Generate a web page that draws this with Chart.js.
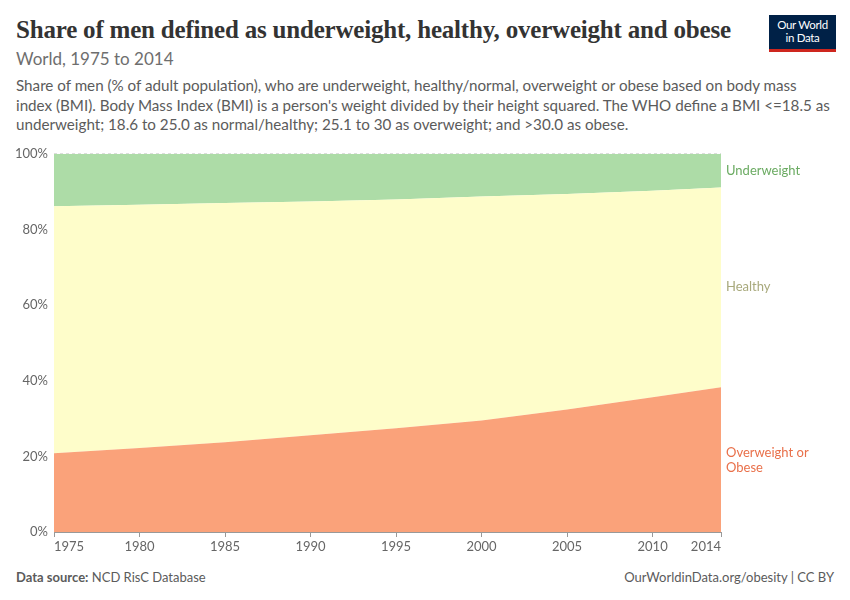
<!DOCTYPE html>
<html>
<head>
<meta charset="utf-8">
<script src="https://cdn.jsdelivr.net/npm/chart.js@4"></script>
<style>
  body { margin: 0; width: 850px; height: 600px; background: #fff; font-family: Lato, sans-serif; position: relative; overflow: hidden; }
  #title { position: absolute; left: 16px; top: 16px; font-family: "Liberation Serif", serif; font-weight: bold; font-size: 25px; color: #333; white-space: nowrap; letter-spacing: -0.2px; }
  #subtitle { position: absolute; left: 16px; top: 48px; font-size: 17px; color: #6e6e6e; }
  #desc { position: absolute; left: 16px; top: 76px; width: 815px; font-size: 15.2px; line-height: 19.5px; color: #5b5b5b; }
  #logo { position: absolute; left: 769px; top: 15px; width: 67px; background: #002147; border-bottom: 3px solid #ce261e; color: #fff; font-size: 11.5px; line-height: 13px; text-align: center; padding-top: 3px; height: 31px; letter-spacing: -0.3px; }
  #wrap { position: absolute; left: 0; top: 140px; width: 850px; height: 420px; }
  #source { position: absolute; left: 16px; top: 569px; font-size: 13px; color: #5b5b5b; }
  #url { position: absolute; right: 16px; top: 569px; font-size: 13px; color: #5b5b5b; }
</style>
</head>
<body>
<div id="title">Share of men defined as underweight, healthy, overweight and obese</div>
<div id="subtitle">World, 1975 to 2014</div>
<div id="desc">Share of men (% of adult population), who are underweight, healthy/normal, overweight or obese based on body mass index (BMI). Body Mass Index (BMI) is a person's weight divided by their height squared. The WHO define a BMI &lt;=18.5 as underweight; 18.6 to 25.0 as normal/healthy; 25.1 to 30 as overweight; and &gt;30.0 as obese.</div>
<div id="logo">Our World<br>in Data</div>
<div id="wrap"><canvas id="chart" width="850" height="420"></canvas></div>
<div id="source"><b>Data source:</b> NCD RisC Database</div>
<div id="url">OurWorldinData.org/obesity | CC BY</div>
<script>
const years = [1975, 1980, 1985, 1990, 1995, 2000, 2005, 2010, 2014];
const overweight = [20.8, 22.2, 23.7, 25.6, 27.4, 29.5, 32.4, 35.6, 38.3];
const underweight = [13.9, 13.5, 13.0, 12.6, 12.1, 11.3, 10.6, 9.8, 8.9];
const healthy = years.map((y, i) => +(100 - overweight[i] - underweight[i]).toFixed(1));
const xTicks = [1975, 1980, 1985, 1990, 1995, 2000, 2005, 2010, 2014];

const names = ["Overweight or Obese", "Healthy", "Underweight"];
const fills = ["#faa27a", "#fefdca", "#addca7"];
const labelColors = ["#e9704a", "#a8a97c", "#6bab62"];

const toPts = arr => years.map((y, i) => ({ x: y, y: arr[i] }));

const sideLabels = {
    id: "sideLabels",
    afterDraw(chart) {
        const ctx = chart.ctx;
        const x = chart.scales.x;
        const yS = chart.scales.y;
        const last = years.length - 1;
        let base = 0;
        ctx.save();
        ctx.font = "13px Lato";
        ctx.textBaseline = "middle";
        ctx.textAlign = "left";
        [overweight, healthy, underweight].forEach((arr, k) => {
            const mid = yS.getPixelForValue(base + arr[last] / 2);
            base += arr[last];
            ctx.fillStyle = labelColors[k];
            if (k === 0) {
                ctx.fillText("Overweight or", x.right + 5, mid - 7);
                ctx.fillText("Obese", x.right + 5, mid + 8);
            } else {
                ctx.fillText(names[k], x.right + 5, mid);
            }
        });
        // x labels
        ctx.fillStyle = "#666";
        ctx.textBaseline = "top";
        xTicks.forEach((t, i) => {
            const px = x.getPixelForValue(t);
            ctx.textAlign = i === 0 ? "left" : (i === xTicks.length - 1 ? "right" : "center");
            ctx.fillText(String(t), px, x.top + 8);
        });
        ctx.restore();
    }
};

new Chart(document.getElementById("chart"), {
    type: "line",
    data: {
        datasets: [overweight, healthy, underweight].map((arr, k) => ({
            label: names[k],
            data: toPts(arr),
            backgroundColor: fills[k],
            borderWidth: 0,
            pointRadius: 0,
            fill: k === 0 ? "origin" : "-1"
        }))
    },
    options: {
        responsive: false,
        animation: false,
        layout: { padding: { top: 13, right: 129, left: 0, bottom: 0 } },
        plugins: { legend: { display: false }, tooltip: { enabled: false } },
        scales: {
            x: {
                type: "linear",
                min: 1975,
                max: 2014,
                afterBuildTicks: s => { s.ticks = xTicks.map(v => ({ value: v })); },
                afterFit: s => { s.height = 28; },
                ticks: { display: false },
                grid: { drawOnChartArea: false, drawTicks: true, tickLength: 5, color: "#999" },
                border: { color: "#999" }
            },
            y: {
                stacked: true,
                min: 0,
                max: 100,
                afterFit: s => { s.width = 54; },
                ticks: {
                    stepSize: 20,
                    padding: 6,
                    color: "#666",
                    font: { family: "Lato", size: 13 },
                    callback: v => v + "%"
                },
                grid: { color: "#ddd", drawTicks: false },
                border: { display: false, dash: [3, 3] }
            }
        }
    },
    plugins: [sideLabels]
});
</script>
</body>
</html>
